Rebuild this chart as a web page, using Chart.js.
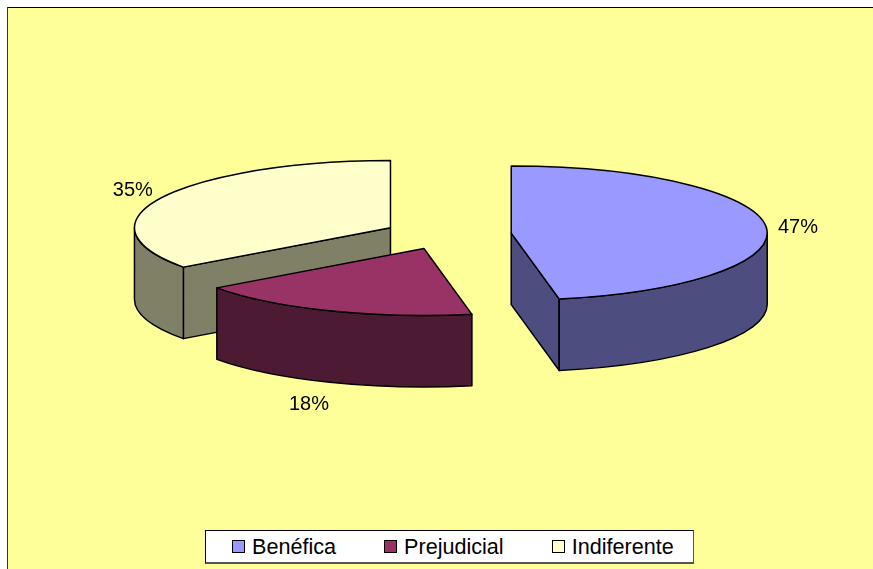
<!DOCTYPE html>
<html lang="pt">
<head>
<meta charset="utf-8">
<title>Benéfica, Prejudicial, Indiferente</title>
<script src="https://cdn.jsdelivr.net/npm/chart.js@4"></script>
<style>
    html, body { margin: 0; padding: 0; background: #fff; overflow: hidden; }
    #wrap { position: relative; width: 873px; height: 569px; }
    #pie { position: absolute; left: 0; top: 0; }
    #legend {
        position: absolute; left: 205px; top: 530px; width: 461px; height: 31px; padding-left: 26px;
        display: flex; align-items: center; justify-content: flex-start; gap: 48px;
        background: #fff; border: 1px solid #000; border-right-color: #555; border-bottom: 2px solid #555;
        font: 21.6px "Liberation Sans", Arial, sans-serif; color: #000;
    }
    #legend .item { display: flex; align-items: center; gap: 7px; white-space: nowrap; }
    #legend .swatch { width: 11px; height: 11px; border: 1px solid #000; }
</style>
</head>
<body>
<div id="wrap">
    <canvas id="pie" width="873" height="569"></canvas>
    <div id="legend"></div>
</div>
<script>
const categories = ['Benéfica', 'Prejudicial', 'Indiferente'];
const shares = [47, 18, 35];
const topColors = ['#9999ff', '#993366', '#ffffcc'];
const sideColors = ['#4d4d80', '#4d1a33', '#808066'];

// Fake 3D look: pie is squashed vertically and each slice pushed out from the middle
const TILT = 0.262;
const DEPTH = 71.5;
const EXPLODE_X = 64;
const EXPLODE_Y = 15;
const LABEL_GAP = 32;
const LABEL_NUDGE = [[0, 1], [-9, 14], [-1, -3]];

function sliceCenter(arc) {
    const mid = (arc.startAngle + arc.endAngle) / 2;
    return {
        x: arc.x + Math.cos(mid) * EXPLODE_X,
        y: arc.y + Math.sin(mid) * EXPLODE_Y
    };
}

function drawCutWall(ctx, c, r, angle, color) {
    const px = c.x + r * Math.cos(angle);
    const py = c.y + r * TILT * Math.sin(angle);
    ctx.beginPath();
    ctx.moveTo(c.x, c.y);
    ctx.lineTo(px, py);
    ctx.lineTo(px, py + DEPTH);
    ctx.lineTo(c.x, c.y + DEPTH);
    ctx.closePath();
    ctx.fillStyle = color;
    ctx.fill();
    ctx.stroke();
}

function drawRimWall(ctx, c, r, from, to, color) {
    ctx.beginPath();
    ctx.ellipse(c.x, c.y, r, r * TILT, 0, from, to);
    ctx.ellipse(c.x, c.y + DEPTH, r, r * TILT, 0, to, from, true);
    ctx.closePath();
    ctx.fillStyle = color;
    ctx.fill();
    ctx.stroke();
}

const framePlugin = {
    id: 'frame',
    beforeDraw(chart) {
        const ctx = chart.ctx;
        ctx.save();
        ctx.fillStyle = '#ffff99';
        ctx.fillRect(7, 7, chart.width - 7, chart.height - 7);
        ctx.fillStyle = '#000';
        ctx.fillRect(7, 7, chart.width - 7, 1);
        ctx.fillStyle = '#333';
        ctx.fillRect(7, 7, 1, chart.height - 7);
        ctx.restore();
    }
};

const pie3dPlugin = {
    id: 'pie3d',
    // replaces the normal flat drawing of the arcs
    beforeDatasetsDraw(chart) {
        const ctx = chart.ctx;
        const arcs = chart.getDatasetMeta(0).data.map((arc, i) => ({ arc, i, c: sliceCenter(arc) }));
        arcs.sort((a, b) => a.c.y - b.c.y);

        ctx.save();
        ctx.strokeStyle = '#000';
        ctx.lineWidth = 1.5;
        ctx.lineJoin = 'round';
        arcs.forEach(({ arc, i, c }) => {
            const r = arc.outerRadius;
            const side = sideColors[i];

            // only walls that face the viewer
            if (Math.cos(arc.startAngle) < -1e-6) drawCutWall(ctx, c, r, arc.startAngle, side);
            if (Math.cos(arc.endAngle) > 1e-6) drawCutWall(ctx, c, r, arc.endAngle, side);
            const from = Math.max(arc.startAngle, 0);
            const to = Math.min(arc.endAngle, Math.PI);
            if (from < to) drawRimWall(ctx, c, r, from, to, side);

            // top face
            ctx.save();
            ctx.translate(c.x, c.y);
            ctx.scale(1, TILT);
            ctx.translate(-arc.x, -arc.y);
            arc.draw(ctx);
            ctx.restore();

            ctx.beginPath();
            ctx.moveTo(c.x, c.y);
            ctx.ellipse(c.x, c.y, r, r * TILT, 0, arc.startAngle, arc.endAngle);
            ctx.closePath();
            ctx.stroke();
        });
        ctx.restore();
        return false;
    },
    afterDraw(chart) {
        const ctx = chart.ctx;
        ctx.save();
        ctx.fillStyle = '#000';
        ctx.font = '20px "Liberation Sans", Arial, sans-serif';
        ctx.textAlign = 'center';
        ctx.textBaseline = 'middle';
        chart.getDatasetMeta(0).data.forEach((arc, i) => {
            const c = sliceCenter(arc);
            const mid = (arc.startAngle + arc.endAngle) / 2;
            const r = arc.outerRadius + LABEL_GAP;
            const drop = Math.sin(mid) > 0.5 ? DEPTH : 0;
            const x = c.x + r * Math.cos(mid) + LABEL_NUDGE[i][0];
            const y = c.y + r * TILT * Math.sin(mid) + drop + LABEL_NUDGE[i][1];
            ctx.fillText(shares[i] + '%', x, y);
        });
        ctx.restore();
    }
};

new Chart(document.getElementById('pie').getContext('2d'), {
    type: 'pie',
    data: {
        labels: categories,
        datasets: [{
            data: shares,
            backgroundColor: topColors,
            borderWidth: 0,
            clip: false
        }]
    },
    options: {
        responsive: false,
        animation: false,
        radius: 256,
        layout: { padding: { left: 22, bottom: 100 } },
        plugins: {
            legend: { display: false },
            tooltip: { enabled: false }
        }
    },
    plugins: [framePlugin, pie3dPlugin]
});

// Legend sits in its own box under the pie
const legendBox = document.getElementById('legend');
categories.forEach((name, i) => {
    const item = document.createElement('span');
    item.className = 'item';
    const swatch = document.createElement('span');
    swatch.className = 'swatch';
    swatch.style.background = topColors[i];
    item.appendChild(swatch);
    item.appendChild(document.createTextNode(name));
    legendBox.appendChild(item);
});
</script>
</body>
</html>
